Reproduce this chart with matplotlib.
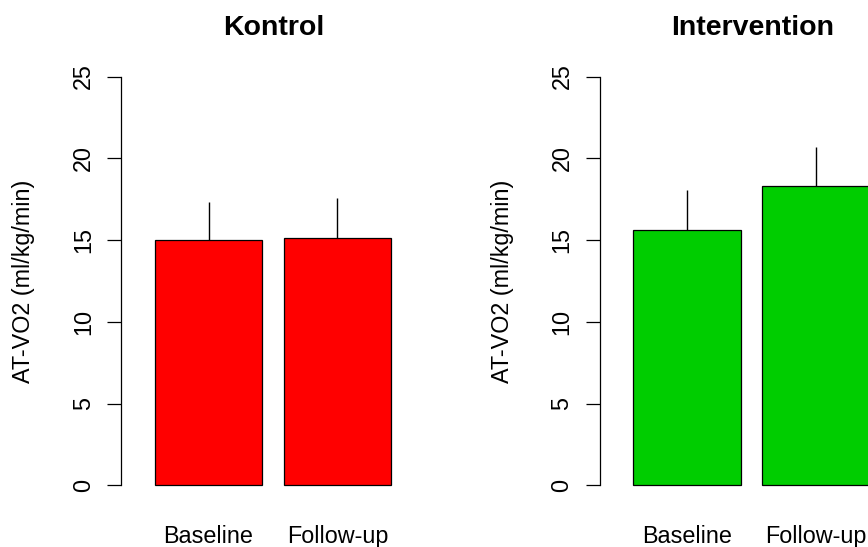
import numpy as np
import matplotlib.pyplot as plt
import matplotlib.transforms as mtransforms

plt.rcParams['font.family'] = ['Liberation Sans', 'DejaVu Sans']

# AT-VO2 means and SD per group
groups = ['Kontrol', 'Intervention']
timepoints = ['Baseline', 'Follow-up']
kontrol_mean = [15.0, 15.15]
kontrol_sd = [2.33, 2.45]
intervention_mean = [15.62, 18.33]
intervention_sd = [2.45, 2.38]
bar_colors = ['#FF0000', '#00CD00']
yticks = [0, 5, 10, 15, 20, 25]

means = [kontrol_mean, intervention_mean]
sds = [kontrol_sd, intervention_sd]

W, H = 868, 547
fig = plt.figure(figsize=(W / 100, H / 100), dpi=100)

# axes boxes in pixels (left, top, width, height); second panel runs past the right edge
ax_top, ax_h, ax_w = 60.2, 441.45, 306.0
lefts = [121.0, 599.5]

xpos = np.array([0.7, 1.9])
for k in range(2):
    ax = fig.add_axes([lefts[k] / W, (H - ax_top - ax_h) / H, ax_w / W, ax_h / H])
    ax.bar(xpos, means[k], width=1.0, color=bar_colors[k], edgecolor='black',
           linewidth=0.9, zorder=2)
    m = np.array(means[k])
    ax.vlines(xpos, m, m + np.array(sds[k]), color='black', linewidth=1.0, zorder=3)

    ax.set_xlim(-0.115, 2.735)
    ax.set_ylim(-1, 26)
    for s in ['top', 'right', 'bottom']:
        ax.spines[s].set_visible(False)
    ax.spines['left'].set_bounds(0, 25)
    ax.spines['left'].set_linewidth(0.9)
    ax.set_xticks([])
    ax.set_yticks(yticks)
    ax.set_yticklabels([str(t) for t in yticks], rotation=90, va='center')
    ax.tick_params(axis='y', length=10.3, width=0.9, pad=8.5, labelsize=16.8)

    ax.set_ylabel('AT-VO2 (ml/kg/min)', fontsize=16.8, va='center')
    ax.yaxis.set_label_coords((24.0 - 121.0) / ax_w, 0.5)

    trans = mtransforms.blended_transform_factory(ax.transData, ax.transAxes)
    for xi, lab in zip(xpos, timepoints):
        ax.text(xi, -0.093, lab, transform=trans, ha='center', va='baseline',
                fontsize=16.8)

    ax.text(0.5, 1.057, groups[k], transform=ax.transAxes, ha='center',
            va='baseline', fontsize=20.5, fontweight='bold')

fig.savefig('out.png', dpi=100)
